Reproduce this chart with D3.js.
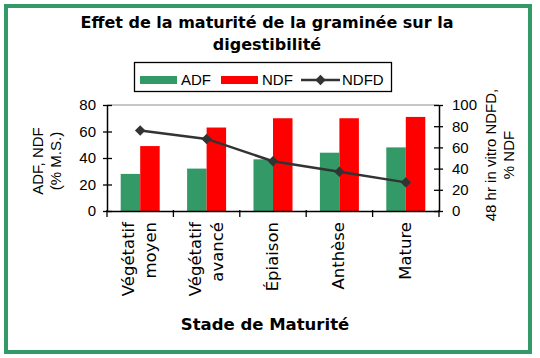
<!doctype html>
<html lang="fr">
<head>
<meta charset="utf-8" />
<title>Effet de la maturité de la graminée sur la digestibilité</title>
<script src="https://d3js.org/d3.v7.min.js"></script>
<style>
  body { margin: 0; background: #fff; }
  text { fill: #000; }
</style>
</head>
<body>
<div id="chart"></div>
<script>
// stages of maturity, two lines each for the rotated labels
var stages = [["Végétatif", "moyen"], ["Végétatif", "avancé"], ["Épiaison"], ["Anthèse"], ["Mature"]];
var adf = [28, 32, 39, 44, 48];
var ndf = [49, 63, 70, 70, 71];
var ndfd = [76, 68, 47, 37, 27];
var leftTicks = [0, 20, 40, 60, 80];
var rightTicks = [0, 20, 40, 60, 80, 100];

var width = 540, height = 358;
var plot = { left: 107, right: 439, top: 105, bottom: 211 };
var green = "#339966", red = "#ff0000", lineCol = "#333333";

var svg = d3.select("#chart").append("svg")
    .attr("width", width)
    .attr("height", height);

// green frame
svg.append("rect")
    .attr("x", 6).attr("y", 6)
    .attr("width", 524).attr("height", 346)
    .attr("fill", "none")
    .attr("stroke", green)
    .attr("stroke-width", 4);

var x = d3.scaleBand().domain(d3.range(stages.length)).range([plot.left, plot.right]);
var yL = d3.scaleLinear().domain([0, 80]).range([plot.bottom, plot.top]);
var yR = d3.scaleLinear().domain([0, 100]).range([plot.bottom, plot.top]);
var barW = 19.5;

// title
var title = svg.append("text")
    .attr("text-anchor", "middle")
    .style("font", "bold 16px 'DejaVu Sans'");
title.append("tspan").attr("x", 267).attr("y", 28).text("Effet de la maturité de la graminée sur la");
title.append("tspan").attr("x", 267).attr("y", 50).text("digestibilité");

// top border line of plot area
svg.append("line")
    .attr("x1", plot.left).attr("x2", plot.right)
    .attr("y1", plot.top).attr("y2", plot.top)
    .attr("stroke", "#b4b4b4").attr("stroke-width", 1.5);

// bars
var groups = svg.selectAll(".stage")
    .data(stages)
    .enter().append("g")
    .attr("class", "stage");

groups.append("rect")
    .attr("x", (d, i) => x(i) + x.bandwidth() / 2 - barW)
    .attr("y", (d, i) => yL(adf[i]))
    .attr("width", barW)
    .attr("height", (d, i) => yL(0) - yL(adf[i]))
    .attr("fill", green);

groups.append("rect")
    .attr("x", (d, i) => x(i) + x.bandwidth() / 2)
    .attr("y", (d, i) => yL(ndf[i]))
    .attr("width", barW)
    .attr("height", (d, i) => yL(0) - yL(ndf[i]))
    .attr("fill", red);

// NDFD line
var line = d3.line()
    .x((d, i) => x(i) + x.bandwidth() / 2)
    .y(d => yR(d));

svg.append("path")
    .datum(ndfd)
    .attr("d", line)
    .attr("fill", "none")
    .attr("stroke", lineCol)
    .attr("stroke-width", 2.5);

var diamond = d3.symbol().type(d3.symbolDiamond2).size(70);
svg.selectAll(".pt")
    .data(ndfd)
    .enter().append("path")
    .attr("class", "pt")
    .attr("d", diamond)
    .attr("transform", (d, i) => `translate(${x(i) + x.bandwidth() / 2},${yR(d)})`)
    .attr("fill", lineCol);

// axes
var axisFont = "15px 'Liberation Sans', Arial, sans-serif";

var leftAxis = svg.append("g")
    .attr("transform", `translate(${plot.left},0)`)
    .call(d3.axisLeft(yL).tickValues(leftTicks).tickSize(4).tickPadding(7).tickSizeOuter(0));
leftAxis.selectAll(".tick line").attr("x2", -4).attr("x1", 5);

var rightAxis = svg.append("g")
    .attr("transform", `translate(${plot.right},0)`)
    .call(d3.axisRight(yR).tickValues(rightTicks).tickSize(4).tickPadding(9).tickSizeOuter(0));
rightAxis.selectAll(".tick line").attr("x1", -5).attr("x2", 4);

svg.append("g")
    .attr("transform", `translate(0,${plot.bottom})`)
    .call(d3.axisBottom(x).tickSize(0).tickSizeOuter(0).tickFormat(""));

// category boundary ticks
svg.selectAll(".btick")
    .data(d3.range(stages.length + 1))
    .enter().append("line")
    .attr("x1", i => plot.left + i * x.step())
    .attr("x2", i => plot.left + i * x.step())
    .attr("y1", plot.bottom - 1)
    .attr("y2", plot.bottom + 6)
    .attr("stroke", "#000")
    .attr("stroke-width", 1.3);

svg.selectAll(".domain").attr("stroke", "#000").attr("stroke-width", 1.5);
svg.selectAll(".tick line").attr("stroke", "#000").attr("stroke-width", 1.3);
svg.selectAll(".tick text").style("font", axisFont).attr("fill", "#000");

// rotated category labels
var labelFont = "16.5px 'DejaVu Sans', Verdana, sans-serif";
stages.forEach(function (lines, i) {
    var cx = x(i) + x.bandwidth() / 2;
    var n = lines.length;
    lines.forEach(function (t, j) {
        var off = (j - (n - 1) / 2) * 22 + 5;
        svg.append("text")
            .attr("transform", `translate(${cx + off},222) rotate(-90)`)
            .attr("text-anchor", "end")
            .style("font", labelFont)
            .text(t);
    });
});

// axis titles
svg.append("text")
    .attr("x", 265).attr("y", 330)
    .attr("text-anchor", "middle")
    .style("font", "bold 16.5px 'DejaVu Sans', Verdana, sans-serif")
    .text("Stade de Maturité");

var titleFont = "15px 'Liberation Sans', Arial, sans-serif";
var lt = svg.append("g").attr("transform", "translate(0,161) rotate(-90)");
lt.append("text").attr("x", 0).attr("y", 43).attr("text-anchor", "middle")
    .style("font", titleFont).text("ADF, NDF");
lt.append("text").attr("x", 0).attr("y", 61).attr("text-anchor", "middle")
    .style("font", titleFont).text("(% M.S.)");

var rt = svg.append("g").attr("transform", "translate(0,155) rotate(-90)");
rt.append("text").attr("x", 0).attr("y", 496).attr("text-anchor", "middle")
    .style("font", titleFont).text("48 hr in vitro NDFD,");
rt.append("text").attr("x", 0).attr("y", 514).attr("text-anchor", "middle")
    .style("font", titleFont).text("% NDF");

// legend
var legend = svg.append("g");
legend.append("rect")
    .attr("x", 134.5).attr("y", 62.5).attr("width", 257).attr("height", 29)
    .attr("fill", "#fff").attr("stroke", "#000").attr("stroke-width", 1.3);

var legItems = [
    { name: "ADF", color: green, kind: "bar", x: 140 },
    { name: "NDF", color: red, kind: "bar", x: 221 },
    { name: "NDFD", color: lineCol, kind: "line", x: 301 }
];
legItems.forEach(function (d) {
    if (d.kind === "bar") {
        legend.append("rect").attr("x", d.x).attr("y", 76).attr("width", 37).attr("height", 8).attr("fill", d.color);
    } else {
        legend.append("line").attr("x1", d.x).attr("x2", d.x + 39).attr("y1", 80).attr("y2", 80)
            .attr("stroke", d.color).attr("stroke-width", 2.5);
        legend.append("path").attr("d", diamond).attr("transform", `translate(${d.x + 19.5},80)`).attr("fill", d.color);
    }
    legend.append("text")
        .attr("x", d.x + 41).attr("y", 85)
        .style("font", "15px 'Liberation Sans', Arial, sans-serif")
        .text(d.name);
});
</script>
</body>
</html>
